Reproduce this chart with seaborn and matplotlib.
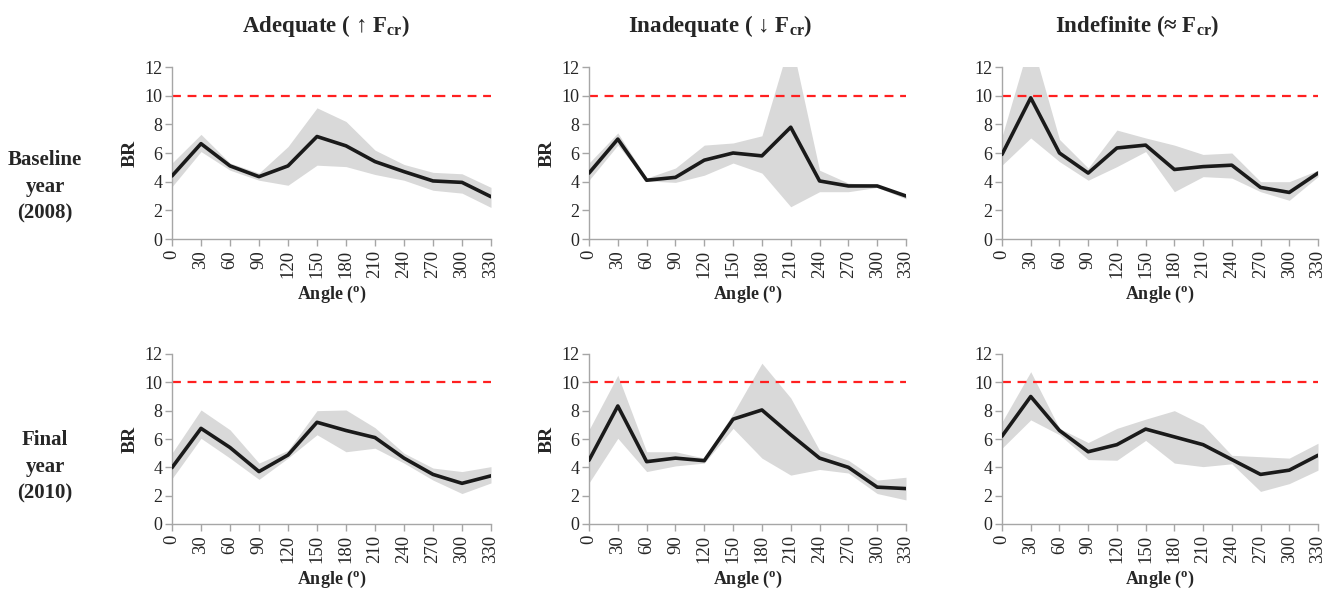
import numpy as np
import pandas as pd
import matplotlib
matplotlib.use("Agg")
import matplotlib.pyplot as plt
import seaborn as sns

angles = [0, 30, 60, 90, 120, 150, 180, 210, 240, 270, 300, 330]
col_titles = ["Adequate ( \u2191 F$_\\mathregular{cr}$)",
              "Inadequate ( \u2193 F$_\\mathregular{cr}$)",
              "Indefinite (\u2248 F$_\\mathregular{cr}$)"]
row_titles = ["Baseline\nyear\n(2008)", "Final\nyear\n(2010)"]
threshold = 10

# Baseline year (2008)
base_adeq_mean = [4.4, 6.65, 5.1, 4.35, 5.1, 7.15, 6.5, 5.4, 4.7, 4.05, 3.95, 2.95]
base_adeq_hi   = [5.3, 7.3, 5.3, 4.6, 6.45, 9.15, 8.2, 6.2, 5.2, 4.65, 4.55, 3.6]
base_adeq_lo   = [3.65, 6.1, 4.8, 4.1, 3.75, 5.15, 5.05, 4.5, 4.1, 3.4, 3.2, 2.2]

base_inad_mean = [4.6, 6.97, 4.1, 4.3, 5.5, 6.0, 5.8, 7.8, 4.05, 3.7, 3.7, 3.0]
base_inad_hi   = [5.3, 7.4, 4.25, 4.95, 6.55, 6.7, 7.2, 14.0, 4.8, 3.9, 3.75, 3.05]
base_inad_lo   = [4.1, 6.55, 4.05, 3.95, 4.45, 5.3, 4.6, 2.25, 3.3, 3.3, 3.6, 2.8]

base_indf_mean = [5.9, 9.85, 6.0, 4.6, 6.35, 6.55, 4.85, 5.05, 5.15, 3.6, 3.25, 4.6]
base_indf_hi   = [7.15, 14.0, 6.95, 4.95, 7.6, 7.05, 6.55, 5.9, 6.0, 4.0, 4.0, 4.8]
base_indf_lo   = [5.15, 7.05, 5.4, 4.1, 5.05, 6.1, 3.3, 4.35, 4.25, 3.3, 2.7, 4.35]

# Final year (2010)
fin_adeq_mean = [3.98, 6.75, 5.4, 3.7, 4.87, 7.18, 6.6, 6.1, 4.65, 3.5, 2.87, 3.4]
fin_adeq_hi   = [5.0, 8.05, 6.65, 4.3, 5.2, 8.0, 8.05, 6.8, 5.0, 3.95, 3.7, 4.05]
fin_adeq_lo   = [3.2, 6.05, 4.65, 3.15, 4.65, 6.3, 5.1, 5.35, 4.3, 3.1, 2.15, 2.9]

fin_inad_mean = [4.5, 8.33, 4.4, 4.65, 4.47, 7.4, 8.05, 6.3, 4.65, 4.0, 2.6, 2.5]
fin_inad_hi   = [6.65, 10.5, 5.1, 5.1, 4.65, 7.8, 11.35, 8.9, 5.2, 4.5, 3.1, 3.3]
fin_inad_lo   = [2.9, 6.05, 3.7, 4.1, 4.3, 6.75, 4.65, 3.45, 3.85, 3.6, 2.15, 1.7]

fin_indf_mean = [6.2, 9.0, 6.6, 5.1, 5.6, 6.7, 6.15, 5.6, 4.55, 3.5, 3.8, 4.85]
fin_indf_hi   = [7.2, 10.75, 6.75, 5.75, 6.75, 7.4, 8.0, 7.0, 4.85, 4.75, 4.65, 5.7]
fin_indf_lo   = [5.35, 7.35, 6.3, 4.55, 4.5, 5.9, 4.3, 4.05, 4.25, 2.3, 2.85, 3.8]

panels = [
    [(base_adeq_mean, base_adeq_lo, base_adeq_hi),
     (base_inad_mean, base_inad_lo, base_inad_hi),
     (base_indf_mean, base_indf_lo, base_indf_hi)],
    [(fin_adeq_mean, fin_adeq_lo, fin_adeq_hi),
     (fin_inad_mean, fin_inad_lo, fin_inad_hi),
     (fin_indf_mean, fin_indf_lo, fin_indf_hi)],
]

sns.set_theme(style="white")
plt.rcParams['font.family'] = ['Liberation Serif', 'DejaVu Serif']
plt.rcParams['mathtext.fontset'] = 'custom'
plt.rcParams['mathtext.rm'] = 'Liberation Serif:bold'

W, H = 1336, 596
fig = plt.figure(figsize=(W / 100, H / 100), dpi=100)

lefts = [172, 589, 1002]
widths = [319, 317, 316]
row_top = [67, 354]
row_bot = [239, 524]

spine_col = "#a6a6a6"
title_x = [326, 720, 1137]

for r in range(2):
    for c in range(3):
        ax = fig.add_axes([lefts[c] / W, 1 - row_bot[r] / H,
                           widths[c] / W, (row_bot[r] - row_top[r]) / H])
        mean, lo, hi = panels[r][c]
        df = pd.DataFrame({"angle": angles, "mean": mean, "lo": lo, "hi": hi})
        ax.fill_between(df["angle"], df["lo"], df["hi"], color="#d9d9d9", lw=0, zorder=1)
        sns.lineplot(data=df, x="angle", y="mean", ax=ax, color="#1a1a1a", lw=2.6, zorder=3)
        ax.axhline(threshold, color="#ff2020", ls=(0, (4, 3)), lw=1.6, zorder=2)
        ax.set_xlim(0, 330)
        ax.set_ylim(0, 12)
        ax.set_xticks(angles)
        ax.set_xticklabels([str(a) for a in angles], rotation=90, fontsize=13.5)
        ax.set_yticks(range(0, 13, 2))
        ax.tick_params(axis="y", labelsize=13, length=5, width=1, color=spine_col, pad=2, direction="out")
        ax.tick_params(axis="x", length=5, width=1, color=spine_col, pad=3, direction="out")
        ax.tick_params(left=True, bottom=True)
        for s in ["top", "right"]:
            ax.spines[s].set_visible(False)
        for s in ["left", "bottom"]:
            ax.spines[s].set_color(spine_col)
            ax.spines[s].set_linewidth(1)
        ax.set_xlabel("Angle ($^\\mathregular{o}$)", fontsize=13, fontweight="bold", labelpad=4)
        if c < 2:
            ax.set_ylabel("BR", fontsize=14, fontweight="bold", labelpad=4)
        else:
            ax.set_ylabel("")
        ax.grid(False)

for c in range(3):
    fig.text(title_x[c] / W, 1 - 26 / H, col_titles[c], ha="center", va="center",
             fontsize=16.5, fontweight="bold")

for r, yc in enumerate([187, 467]):
    fig.text(45 / W, 1 - yc / H, row_titles[r], ha="center", va="center",
             fontsize=15, fontweight="bold", linespacing=1.45)

fig.savefig("out.png", dpi=100, facecolor="white")
